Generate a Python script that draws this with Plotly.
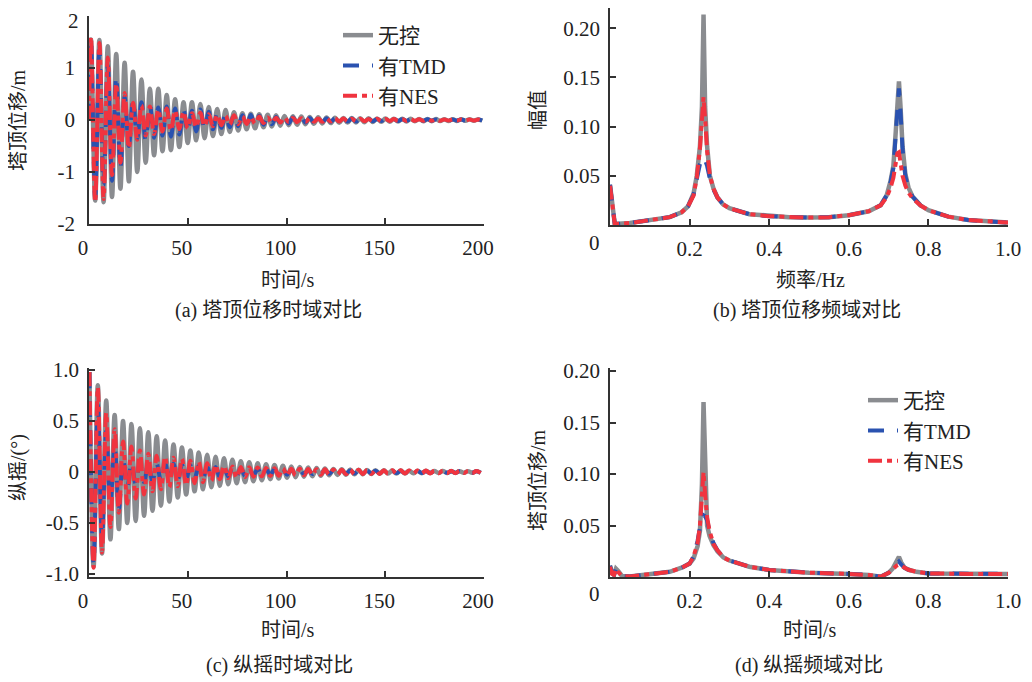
import numpy as np
import plotly.graph_objects as go

# ---------------- data ----------------
HALF_PERIOD = 2.13  # s, half period of the dominant 0.235 Hz oscillation

# (a) tower-top displacement, extremes per cycle (upper / lower)
GRAY_A_UP = [1.55, 1.54, 1.42, 1.27, 1.10, 0.93, 0.78, 0.60, 0.60, 0.48, 0.40, 0.34, 0.34, 0.31, 0.25, 0.21,
             0.19, 0.15, 0.13, 0.12, 0.11, 0.10, 0.09, 0.075, 0.07, 0.065, 0.06, 0.055, 0.05, 0.045, 0.04,
             0.038, 0.035, 0.032, 0.03, 0.028, 0.026, 0.024, 0.022, 0.02, 0.019, 0.018, 0.016, 0.015, 0.014,
             0.013, 0.012]
GRAY_A_DN = [-1.55, -1.58, -1.48, -1.32, -1.18, -1.0, -0.82, -0.68, -0.60, -0.58, -0.52, -0.44, -0.39, -0.35,
             -0.31, -0.27, -0.23, -0.20, -0.18, -0.16, -0.14, -0.125, -0.11, -0.10, -0.09, -0.08, -0.072,
             -0.065, -0.06, -0.055, -0.05, -0.046, -0.042, -0.038, -0.035, -0.032, -0.03, -0.028, -0.026,
             -0.024, -0.022, -0.02, -0.019, -0.018, -0.016, -0.015, -0.014]
TMD_A_UP = [1.55, 1.34, 1.05, 0.85, 0.45, 0.38, 0.34, 0.30, 0.24, 0.26, 0.22, 0.20, 0.18, 0.20, 0.16, 0.13,
            0.12, 0.11, 0.09, 0.10, 0.08, 0.07, 0.06, 0.06, 0.05, 0.045, 0.04, 0.04, 0.035, 0.03, 0.03, 0.028,
            0.025, 0.022, 0.02, 0.02, 0.018, 0.016, 0.015, 0.014, 0.013, 0.012, 0.011, 0.01, 0.01, 0.009, 0.008]
TMD_A_DN = [-1.5, -1.25, -1.17, -0.92, -0.50, -0.36, -0.40, -0.34, -0.30, -0.32, -0.28, -0.24, -0.22, -0.20,
            -0.18, -0.15, -0.14, -0.12, -0.11, -0.10, -0.09, -0.08, -0.07, -0.065, -0.06, -0.05, -0.045, -0.04,
            -0.035, -0.03, -0.03, -0.028, -0.025, -0.022, -0.02, -0.02, -0.018, -0.016, -0.015, -0.014, -0.013,
            -0.012, -0.011, -0.01, -0.01, -0.009, -0.008]
NES_A_UP = [1.60, 1.48, 1.20, 0.70, 0.52, 0.33, 0.28, 0.26, 0.20, 0.22, 0.18, 0.16, 0.13, 0.14, 0.11, 0.10,
            0.08, 0.09, 0.07, 0.06, 0.065, 0.05, 0.045, 0.05, 0.04, 0.035, 0.035, 0.03, 0.028, 0.032, 0.028,
            0.025, 0.024, 0.02, 0.024, 0.02, 0.018, 0.016, 0.018, 0.015, 0.014, 0.014, 0.012, 0.012, 0.011,
            0.011, 0.01]
NES_A_DN = [-1.58, -1.52, -1.06, -0.82, -0.54, -0.38, -0.30, -0.27, -0.22, -0.20, -0.18, -0.16, -0.14, -0.12,
            -0.12, -0.10, -0.09, -0.08, -0.075, -0.07, -0.06, -0.055, -0.05, -0.045, -0.042, -0.04, -0.035,
            -0.033, -0.03, -0.028, -0.026, -0.025, -0.023, -0.022, -0.02, -0.019, -0.018, -0.017, -0.016,
            -0.015, -0.014, -0.013, -0.012, -0.012, -0.011, -0.011, -0.01]

# (c) pitch, extremes per cycle (upper / lower)
GRAY_C_UP = [0.98, 0.85, 0.70, 0.56, 0.50, 0.47, 0.43, 0.39, 0.35, 0.31, 0.27, 0.24, 0.21, 0.19, 0.17, 0.15,
             0.135, 0.12, 0.105, 0.095, 0.085, 0.075, 0.068, 0.06, 0.054, 0.048, 0.043, 0.038, 0.034, 0.03,
             0.027, 0.024, 0.022, 0.02, 0.018, 0.016, 0.015, 0.014, 0.013, 0.012, 0.011, 0.01, 0.009, 0.008,
             0.008, 0.007, 0.007]
GRAY_C_DN = [-0.93, -0.80, -0.66, -0.56, -0.50, -0.48, -0.43, -0.38, -0.33, -0.29, -0.25, -0.22, -0.19, -0.17,
             -0.15, -0.135, -0.12, -0.11, -0.10, -0.09, -0.08, -0.07, -0.064, -0.057, -0.051, -0.046, -0.041,
             -0.036, -0.032, -0.029, -0.026, -0.023, -0.021, -0.019, -0.017, -0.016, -0.015, -0.014, -0.013,
             -0.012, -0.011, -0.01, -0.009, -0.008, -0.008, -0.007, -0.007]
TMD_C_UP = [0.98, 0.66, 0.40, 0.26, 0.14, 0.10, 0.09, 0.085, 0.08, 0.085, 0.08, 0.07, 0.065, 0.06, 0.055, 0.05,
            0.045, 0.04, 0.038, 0.035, 0.032, 0.03, 0.028, 0.026, 0.024, 0.022, 0.02, 0.019, 0.018, 0.017,
            0.016, 0.015, 0.014, 0.013, 0.012, 0.012, 0.011, 0.011, 0.01, 0.01, 0.009, 0.009, 0.008, 0.008,
            0.008, 0.007, 0.007]
TMD_C_DN = [-0.90, -0.64, -0.30, -0.37, -0.16, -0.12, -0.10, -0.09, -0.085, -0.08, -0.075, -0.07, -0.065,
            -0.06, -0.055, -0.05, -0.045, -0.04, -0.038, -0.035, -0.032, -0.03, -0.028, -0.026, -0.024, -0.022,
            -0.02, -0.019, -0.018, -0.017, -0.016, -0.015, -0.014, -0.013, -0.012, -0.012, -0.011, -0.011,
            -0.01, -0.01, -0.009, -0.009, -0.008, -0.008, -0.008, -0.007, -0.007]
NES_C_UP = [0.98, 0.83, 0.58, 0.42, 0.30, 0.25, 0.21, 0.18, 0.16, 0.15, 0.14, 0.13, 0.11, 0.10, 0.085, 0.07,
            0.06, 0.055, 0.05, 0.046, 0.043, 0.04, 0.037, 0.035, 0.033, 0.031, 0.029, 0.027, 0.026, 0.024,
            0.023, 0.022, 0.021, 0.02, 0.019, 0.018, 0.017, 0.016, 0.015, 0.014, 0.014, 0.013, 0.012, 0.012,
            0.011, 0.011, 0.01]
NES_C_DN = [-0.94, -0.79, -0.54, -0.40, -0.31, -0.26, -0.22, -0.19, -0.17, -0.15, -0.14, -0.13, -0.11, -0.10,
            -0.085, -0.07, -0.06, -0.055, -0.05, -0.046, -0.043, -0.04, -0.037, -0.035, -0.033, -0.031, -0.029,
            -0.027, -0.026, -0.024, -0.023, -0.022, -0.021, -0.02, -0.019, -0.018, -0.017, -0.016, -0.015,
            -0.014, -0.014, -0.013, -0.012, -0.012, -0.011, -0.011, -0.01]

# (b) spectrum of tower-top displacement
FREQ_B = [0, 0.006, 0.012, 0.05, 0.1, 0.15, 0.18, 0.196, 0.21, 0.218, 0.226, 0.231, 0.235, 0.239, 0.244,
          0.251, 0.26, 0.27, 0.284, 0.3, 0.35, 0.4, 0.45, 0.5, 0.55, 0.6, 0.65, 0.68, 0.695, 0.705, 0.712,
          0.718, 0.722, 0.726, 0.730, 0.735, 0.742, 0.75, 0.76, 0.78, 0.8, 0.85, 0.9, 0.95, 1.0]
GRAY_B = [0.041, 0.018, 0.001, 0.002, 0.005, 0.008, 0.013, 0.019, 0.032, 0.05, 0.08, 0.12, 0.214, 0.12, 0.08,
          0.05, 0.037, 0.028, 0.021, 0.017, 0.011, 0.009, 0.008, 0.0075, 0.008, 0.01, 0.014, 0.02, 0.03, 0.045,
          0.06, 0.095, 0.125, 0.146, 0.12, 0.08, 0.052, 0.038, 0.029, 0.02, 0.015, 0.0085, 0.005, 0.0035, 0.0025]
TMD_B = [0.041, 0.018, 0.001, 0.002, 0.005, 0.008, 0.013, 0.019, 0.031, 0.045, 0.062, 0.066, 0.063, 0.066, 0.06,
         0.047, 0.036, 0.028, 0.021, 0.017, 0.011, 0.009, 0.008, 0.0075, 0.008, 0.01, 0.014, 0.02, 0.03, 0.044,
         0.058, 0.09, 0.12, 0.139, 0.115, 0.078, 0.05, 0.037, 0.029, 0.02, 0.015, 0.0085, 0.005, 0.0035, 0.0025]
NES_B = [0.04, 0.018, 0.001, 0.002, 0.005, 0.008, 0.013, 0.019, 0.03, 0.048, 0.078, 0.108, 0.13, 0.108, 0.075,
         0.05, 0.037, 0.028, 0.021, 0.017, 0.011, 0.009, 0.008, 0.0075, 0.008, 0.01, 0.014, 0.02, 0.028, 0.038,
         0.048, 0.065, 0.073, 0.074, 0.062, 0.05, 0.04, 0.033, 0.027, 0.02, 0.015, 0.0085, 0.005, 0.0035, 0.0025]

# (d) spectrum of pitch
FREQ_D = [0, 0.005, 0.01, 0.015, 0.02, 0.03, 0.05, 0.1, 0.15, 0.18, 0.2, 0.21, 0.22, 0.226, 0.231, 0.235,
          0.239, 0.244, 0.25, 0.26, 0.27, 0.285, 0.3, 0.35, 0.4, 0.5, 0.6, 0.65, 0.68, 0.7, 0.71, 0.72, 0.726,
          0.732, 0.74, 0.75, 0.77, 0.8, 0.9, 1.0]
GRAY_D = [0.011, 0.004, 0.002, 0.008, 0.006, 0.001, 0.0005, 0.003, 0.005, 0.009, 0.013, 0.018, 0.03, 0.045,
          0.09, 0.170, 0.095, 0.05, 0.04, 0.031, 0.025, 0.019, 0.016, 0.01, 0.0068, 0.0042, 0.003, 0.002, 0.0003,
          0.004, 0.008, 0.014, 0.0195, 0.014, 0.009, 0.007, 0.005, 0.0035, 0.003, 0.003]
TMD_D = [0.011, 0.004, 0.002, 0.008, 0.006, 0.001, 0.0005, 0.003, 0.005, 0.009, 0.013, 0.02, 0.035, 0.048,
         0.057, 0.06, 0.059, 0.055, 0.045, 0.033, 0.026, 0.019, 0.016, 0.01, 0.0068, 0.0042, 0.003, 0.002,
         0.0003, 0.004, 0.008, 0.012, 0.015, 0.012, 0.009, 0.007, 0.005, 0.0035, 0.003, 0.003]
NES_D = [0.010, 0.003, 0.002, 0.008, 0.005, 0.001, 0.0005, 0.003, 0.005, 0.009, 0.013, 0.02, 0.033, 0.05,
         0.075, 0.102, 0.08, 0.058, 0.045, 0.032, 0.026, 0.019, 0.016, 0.01, 0.0068, 0.0042, 0.003, 0.002,
         0.0003, 0.004, 0.007, 0.011, 0.012, 0.011, 0.009, 0.007, 0.005, 0.0035, 0.003, 0.003]

NAMES = ["无控", "有TMD", "有NES"]
X_TICKS_T = [0, 50, 100, 150, 200]
Y_TICKS_A = [-2, -1, 0, 1, 2]
Y_TICKS_A_TEXT = ["-2", "-1", "0", "1", ""]   # the top "2" is written as a separate label below
Y_TICKS_C = [-1.0, -0.5, 0, 0.5, 1.0]
Y_TICKS_C_TEXT = ["-1.0", "-0.5", "0", "0.5", "1.0"]
X_TICKS_F = [0, 0.2, 0.4, 0.6, 0.8, 1.0]
X_TICKS_F_TEXT = ["", "0.2", "0.4", "0.6", "0.8", "1.0"]
Y_TICKS_S = [0.05, 0.10, 0.15, 0.20]
Y_TICKS_S_TEXT = ["0.05", "0.10", "0.15", "0.20"]

# ---------------- styles ----------------
# The page body keeps its default 8px margin, so the figure is sized to the
# remaining visible window area and all reference pixel positions are shifted.
OFFSET = 8
W, H = 1032 - OFFSET, 682 - OFFSET
FONT = "'Liberation Serif', 'Times New Roman', 'DejaVu Serif', 'Noto Sans CJK SC', serif"
GRAY = "#8a8c90"
BLUE = "#2a52b0"
RED = "#f0343f"
STYLES = [dict(color=GRAY, width=4.5, dash="solid"),
          dict(color=BLUE, width=4, dash="16px,13px"),
          dict(color=RED, width=4, dash="14px,5px,5px,5px")]


def interleave(up, dn):
    out = []
    for u, d in zip(up, dn):
        out += [u, d]
    return out


n_ext = 2 * len(GRAY_A_UP)
t_a = np.concatenate([[0.0], 1.0 + HALF_PERIOD * np.arange(n_ext)])
t_c = 0.2 + HALF_PERIOD * np.arange(n_ext)

series_a = [[0.0] + interleave(GRAY_A_UP, GRAY_A_DN),
            [0.0] + interleave(TMD_A_UP, TMD_A_DN),
            [0.0] + interleave(NES_A_UP, NES_A_DN)]
series_c = [interleave(GRAY_C_UP, GRAY_C_DN),
            interleave(TMD_C_UP, TMD_C_DN),
            interleave(NES_C_UP, NES_C_DN)]
series_b = [GRAY_B, TMD_B, NES_B]
series_d = [GRAY_D, TMD_D, NES_D]

fig = go.Figure()
for i in range(3):
    fig.add_trace(go.Scatter(x=t_a, y=series_a[i], mode="lines", name=NAMES[i], line=STYLES[i],
                             line_shape="spline", xaxis="x", yaxis="y", legend="legend", showlegend=True,
                             legendgroup="a%d" % i))
for i in range(3):
    fig.add_trace(go.Scatter(x=FREQ_B, y=series_b[i], mode="lines", name=NAMES[i], line=STYLES[i],
                             xaxis="x2", yaxis="y2", showlegend=False))
for i in range(3):
    fig.add_trace(go.Scatter(x=t_c, y=series_c[i], mode="lines", name=NAMES[i], line=STYLES[i],
                             line_shape="spline", xaxis="x3", yaxis="y3", showlegend=False))
for i in range(3):
    fig.add_trace(go.Scatter(x=FREQ_D, y=series_d[i], mode="lines", name=NAMES[i], line=STYLES[i],
                             xaxis="x4", yaxis="y4", legend="legend2", showlegend=True,
                             legendgroup="d%d" % i))


def px(x):
    return min(1.0, max(0.0, (x - OFFSET) / W))


def py(y):
    return min(1.0, max(0.0, 1 - (y - OFFSET) / H))


axis_common = dict(showline=True, linecolor="#333333", linewidth=1.5, ticks="inside", ticklen=6,
                   tickwidth=1.5, tickcolor="#333333", showgrid=False, zeroline=False, automargin=False,
                   ticklabeloverflow="allow",
                   tickfont=dict(family=FONT, size=21, color="#222222"), fixedrange=True)

fig.update_layout(
    template="none",
    width=W, height=H, margin=dict(l=0, r=0, t=0, b=0, autoexpand=False),
    paper_bgcolor="white", plot_bgcolor="white",
    font=dict(family=FONT, size=20, color="#222222"),
    xaxis=dict(axis_common, domain=[px(89), px(484)], anchor="y", range=[0, 200],
               tickvals=X_TICKS_T, ticklabelstandoff=4, ticklabelshift=-6),
    yaxis=dict(axis_common, domain=[py(224), py(16)], anchor="x", range=[-2, 2],
               tickvals=Y_TICKS_A, ticktext=Y_TICKS_A_TEXT, ticklabelstandoff=8),
    xaxis2=dict(axis_common, domain=[px(610), px(1008)], anchor="y2", range=[0, 1],
                tickvals=X_TICKS_F, ticktext=X_TICKS_F_TEXT, ticklabelstandoff=4),
    yaxis2=dict(axis_common, domain=[py(225), py(8)], anchor="x2", range=[0, 0.2206],
                tickvals=Y_TICKS_S, ticktext=Y_TICKS_S_TEXT, ticklabelstandoff=4),
    xaxis3=dict(axis_common, domain=[px(89), px(484)], anchor="y3", range=[0, 200],
                tickvals=X_TICKS_T, ticklabelstandoff=4, ticklabelshift=-6),
    yaxis3=dict(axis_common, domain=[py(577), py(368)], anchor="x3", range=[-1.03, 1.02],
                tickvals=Y_TICKS_C, ticktext=Y_TICKS_C_TEXT, ticklabelstandoff=4),
    xaxis4=dict(axis_common, domain=[px(610), px(1008)], anchor="y4", range=[0, 1],
                tickvals=X_TICKS_F, ticktext=X_TICKS_F_TEXT, ticklabelstandoff=4),
    yaxis4=dict(axis_common, domain=[py(577), py(368)], anchor="x4", range=[0, 0.203],
                tickvals=Y_TICKS_S, ticktext=Y_TICKS_S_TEXT, ticklabelstandoff=4),
    legend=dict(x=px(338), y=py(15), xanchor="left", yanchor="top", bgcolor="rgba(0,0,0,0)",
                tracegroupgap=0, font=dict(family=FONT, size=21, color="#222222")),
    legend2=dict(x=px(863), y=py(380), xanchor="left", yanchor="top", bgcolor="rgba(0,0,0,0)",
                 tracegroupgap=0, font=dict(family=FONT, size=21, color="#222222")),
)

texts = [
    # (text, x, y, angle, size)
    ("塔顶位移/m", 18, 120, -90, 20),
    ("幅值", 538, 110, -90, 20),
    ("纵摇/(°)", 18, 468, -90, 20),
    ("塔顶位移/m", 538, 480, -90, 20),
    ("时间/s", 288, 280, 0, 20),
    ("频率/Hz", 810, 280, 0, 20),
    ("时间/s", 288, 630, 0, 20),
    ("时间/s", 810, 630, 0, 20),
    ("(a) 塔顶位移时域对比", 268, 311, 0, 20),
    ("(b) 塔顶位移频域对比", 807, 311, 0, 20),
    ("(c) 纵摇时域对比", 279, 665, 0, 20),
    ("(d) 纵摇频域对比", 809, 665, 0, 20),
    ("0", 594, 243, 0, 21),
    ("0", 594, 594, 0, 21),
    ("2", 73, 21, 0, 21),
]
for txt, x, y, ang, size in texts:
    fig.add_annotation(text=txt, x=px(x), y=py(y), xref="paper", yref="paper", showarrow=False,
                       xanchor="center", yanchor="middle", textangle=ang,
                       font=dict(family=FONT, size=size, color="#222222"))

fig.write_html("out.html")
